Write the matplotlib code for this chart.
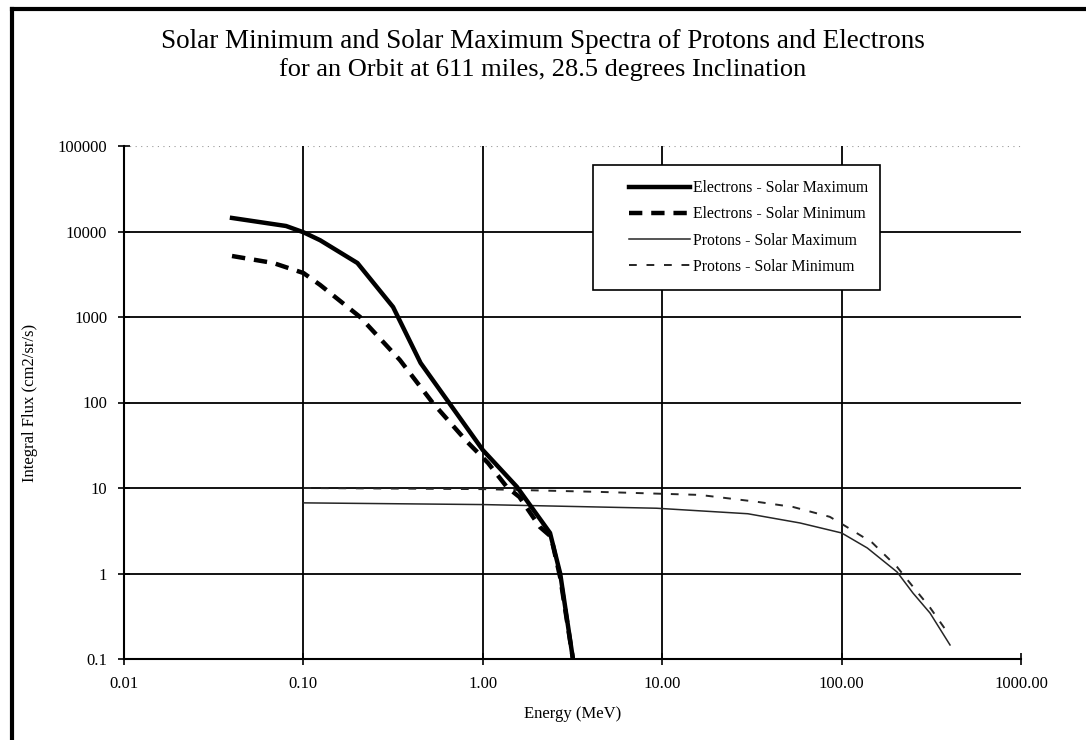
import matplotlib.pyplot as plt
from matplotlib.lines import Line2D
from matplotlib.patches import Rectangle

plt.rcParams['font.family'] = ['Liberation Serif', 'DejaVu Serif']

# values
e_max_E = [0.04, 0.08, 0.10, 0.124, 0.20, 0.316, 0.45, 1.0, 1.55, 2.37, 2.7, 3.18]
e_max_F = [14400, 11600, 9800, 7900, 4280, 1310, 290, 27.8, 10.3, 2.98, 1.0, 0.1]

e_min_E = [0.04, 0.068, 0.10, 0.124, 0.207, 0.345, 0.524, 0.82, 1.07, 1.36, 1.6, 2.08, 2.4, 2.7, 3.18]
e_min_F = [5170, 4280, 3270, 2370, 1000, 314, 100, 34.5, 19.6, 10.3, 7.85, 3.5, 2.7, 0.9, 0.1]

p_max_E = [0.1, 1.0, 9.3, 30, 58.6, 100, 139, 204, 250, 311, 402]
p_max_F = [6.7, 6.4, 5.8, 5.0, 3.9, 2.98, 1.99, 1.04, 0.59, 0.345, 0.146]

p_min_E = [0.1, 1.0, 4.5, 16.2, 33.7, 53.6, 86, 107, 148, 204, 250, 311, 392]
p_min_F = [10.0, 9.7, 9.0, 8.3, 6.9, 6.0, 4.6, 3.5, 2.3, 1.19, 0.7, 0.4, 0.2]

x_ticks = [0.01, 0.1, 1, 10, 100, 1000]
x_labels = ['0.01', '0.10', '1.00', '10.00', '100.00', '1000.00']
y_ticks = [0.1, 1, 10, 100, 1000, 10000, 100000]
y_labels = ['0.1', '1', '10', '100', '1000', '10000', '100000']

fig = plt.figure(figsize=(10.86, 7.40), dpi=100)
ax = fig.add_axes([124 / 1086, 1 - 659 / 740, 897 / 1086, 513 / 740])

ax.set_xscale('log')
ax.set_yscale('log')
ax.set_xlim(0.01, 1000)
ax.set_ylim(0.1, 100000)

# grid: black lines, the top one faint and dotted
for v in y_ticks[1:-1]:
    ax.axhline(v, color='black', lw=1.3, zorder=1)
ax.axhline(y_ticks[-1], color='0.6', lw=0.8, ls=(0, (1, 4)), zorder=1)
for v in x_ticks[1:-1]:
    ax.axvline(v, color='black', lw=1.3, zorder=1)

ax.plot(e_max_E, e_max_F, color='black', lw=3.2, label='Electrons - Solar Maximum', zorder=4)
ax.plot(e_min_E, e_min_F, color='black', lw=3.2, dashes=(3, 2),
        label='Electrons - Solar Minimum', zorder=4)
ax.plot(p_max_E, p_max_F, color='0.15', lw=1.1, label='Protons - Solar Maximum', zorder=3)
ax.plot(p_min_E, p_min_F, color='0.15', lw=1.4, dashes=(4, 5),
        label='Protons - Solar Minimum', zorder=3)

for s in ['top', 'right']:
    ax.spines[s].set_visible(False)
for s in ['left', 'bottom']:
    ax.spines[s].set_linewidth(1.5)

ax.set_xticks(x_ticks)
ax.set_xticklabels(x_labels)
ax.set_yticks(y_ticks)
ax.set_yticklabels(y_labels)
ax.minorticks_off()
ax.tick_params(direction='inout', length=8, width=1.2, labelsize=12, pad=8)

ax.set_xlabel('Energy (MeV)', fontsize=12, labelpad=10)
ax.set_ylabel('Integral Flux (cm2/sr/s)', fontsize=12, labelpad=14)

fig.text(0.5, 1 - 42 / 740, 'Solar Minimum and Solar Maximum Spectra of Protons and Electrons',
         ha='center', va='center', fontsize=19.5)
fig.text(0.5, 1 - 70 / 740, 'for an Orbit at 611 miles, 28.5 degrees Inclination',
         ha='center', va='center', fontsize=19)

# legend box drawn separately, entries indented like the original
ax.add_patch(Rectangle((593 / 1086, 1 - 290 / 740), 287 / 1086, 125 / 740,
                       transform=fig.transFigure, clip_on=False, facecolor='white',
                       edgecolor='black', lw=1.2, zorder=5))
leg = ax.legend(loc='upper left', bbox_to_anchor=(626 / 1086, 1 - 177 / 740),
                bbox_transform=fig.transFigure, borderaxespad=0, frameon=False,
                fontsize=11.3, handlelength=3.9, labelspacing=0.65,
                borderpad=0.2, handletextpad=0.2)
leg.set_zorder(6)

# outer frame (left and top edges)
fig.add_artist(Line2D([12 / 1086, 12 / 1086], [0, 1 - 9 / 740], color='black', lw=3,
                      transform=fig.transFigure))
fig.add_artist(Line2D([12 / 1086, 1], [1 - 9 / 740, 1 - 9 / 740], color='black', lw=3,
                      transform=fig.transFigure))

fig.savefig('out.png', dpi=100)
